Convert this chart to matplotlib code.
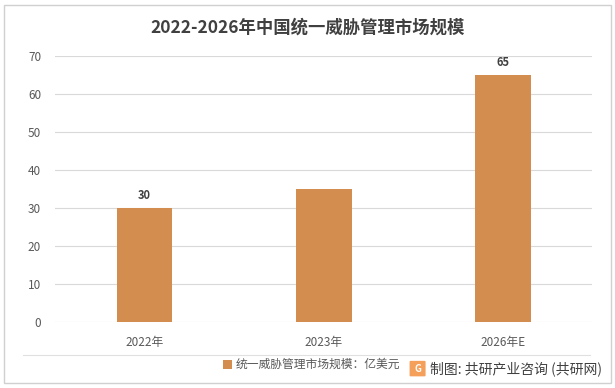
import matplotlib.pyplot as plt
from matplotlib.patches import Rectangle, FancyBboxPatch

plt.rcParams['font.family'] = ['Noto Sans CJK SC', 'DejaVu Sans']

categories = ['2022年', '2023年', '2026年E']
values = [30, 35, 65]
labels = ['30', '', '65']
series_name = '统一威胁管理市场规模：亿美元'
title = '2022-2026年中国统一威胁管理市场规模'
source = '制图: 共研产业咨询 (共研网)'

bar_color = '#D38D4E'
text_color = '#595959'

fig = plt.figure(figsize=(6.15, 3.88), dpi=100)
ax = fig.add_axes([0.0894, 0.170, 0.874, 0.686])

x = range(len(categories))
bars = ax.bar(x, values, width=0.31, color=bar_color, zorder=3)
for b, lab in zip(bars, labels):
    if lab:
        ax.text(b.get_x() + b.get_width() / 2, b.get_height() + 1.5, lab,
                ha='center', va='bottom', fontsize=8, fontweight='bold', color='#404040')

ax.set_xlim(-0.5, len(categories) - 0.5)
ax.set_ylim(0, 70)
ax.set_yticks(range(0, 71, 10))
ax.set_xticks(list(x))
ax.set_xticklabels(categories)
ax.grid(axis='y', color='#D9D9D9', linewidth=0.8, zorder=0)
for s in ax.spines.values():
    s.set_visible(False)
ax.tick_params(axis='both', length=0, labelsize=8.5, labelcolor=text_color)
ax.tick_params(axis='x', pad=10)
ax.tick_params(axis='y', pad=10)

fig.text(0.5, 0.928, title, ha='center', va='center', fontsize=12.5,
         fontweight='bold', color='#404040')

# outer border and legend separator
fig.add_artist(Rectangle((0.007, 0.013), 0.986, 0.975, transform=fig.transFigure,
                         fill=False, edgecolor='#D0D0D0', linewidth=1))
fig.add_artist(plt.Line2D([0.037, 0.96], [0.085, 0.085], transform=fig.transFigure,
                          color='#E0E0E0', linewidth=0.8))

# legend
fig.add_artist(Rectangle((0.362, 0.048), 0.016, 0.025, transform=fig.transFigure,
                         facecolor=bar_color, edgecolor='none'))
fig.text(0.383, 0.060, series_name, ha='left', va='center', fontsize=8.5, color=text_color)

# source logo and text
fig.add_artist(FancyBboxPatch((0.668, 0.032), 0.022, 0.036, transform=fig.transFigure,
                              boxstyle='round,pad=0.002', facecolor='#F5A05A', edgecolor='none'))
fig.text(0.679, 0.050, 'G', ha='center', va='center', fontsize=7, fontweight='bold', color='white')
fig.text(0.700, 0.050, source, ha='left', va='center', fontsize=10, color='#404040')

fig.savefig('out.png', dpi=100)
